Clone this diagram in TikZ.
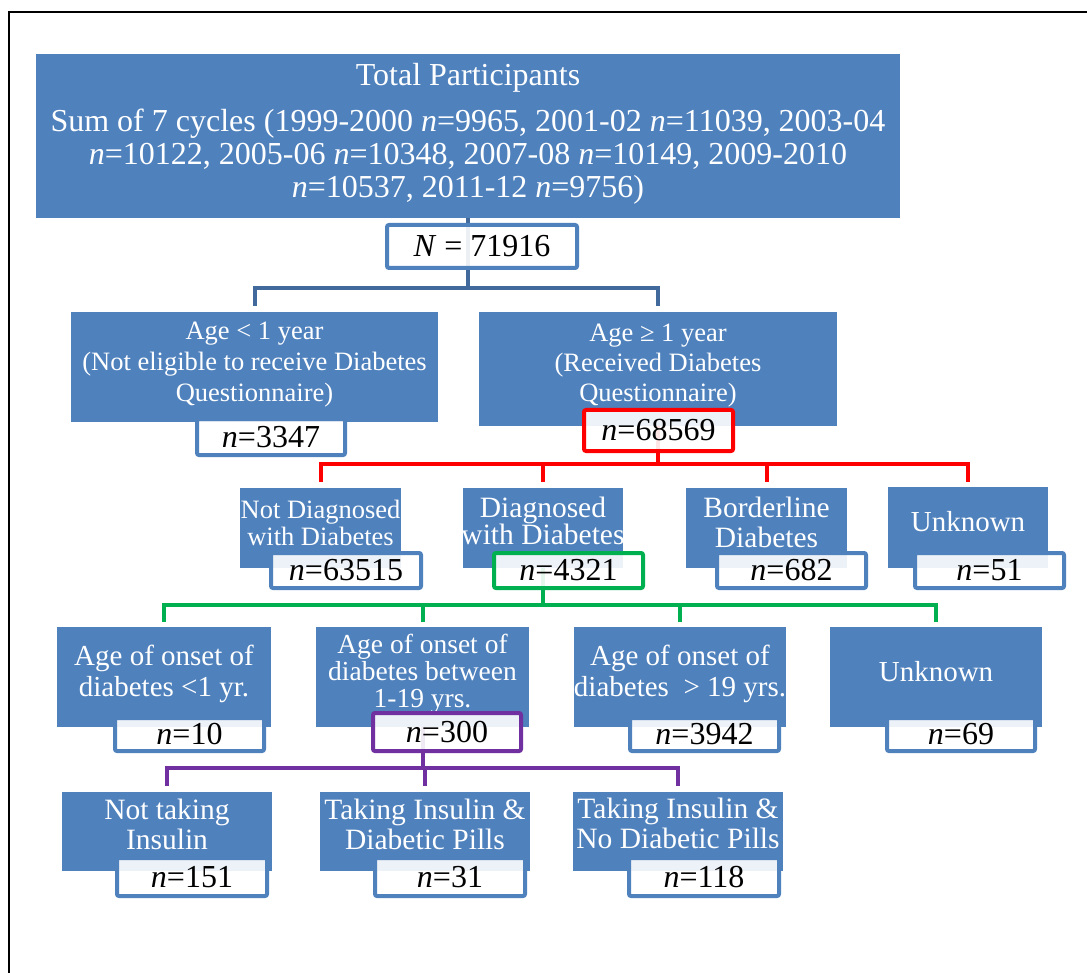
\documentclass[tikz,border=0pt]{standalone}
\usepackage{fontspec}
\setmainfont{Liberation Serif}
\definecolor{boxblue}{HTML}{4F81BD}
\definecolor{topline}{HTML}{41699C}
\definecolor{redline}{HTML}{FF0000}
\definecolor{greenline}{HTML}{00B050}
\definecolor{purpleline}{HTML}{7030A0}
\begin{document}
\begin{tikzpicture}[x=1pt,y=-1pt,
  bluebox/.style={fill=boxblue, draw=none, inner sep=0pt, outer sep=0pt},
  btext/.style={text=white, align=center, inner sep=0pt, anchor=north},
  btextone/.style={text=white, inner sep=0pt, anchor=base},
  nbox/.style={draw=#1, line width=4pt, rounded corners=2pt, fill=white, fill opacity=0.9, text opacity=1, inner sep=0pt, outer sep=0pt, font=\fontsize{32}{34}\selectfont},
  nbox/.default=boxblue,
  conn/.style={line width=4pt, draw=#1},
  frame/.style={line width=2pt, draw=black}]
\useasboundingbox (0,0) rectangle (1087,973);
\draw[frame] (9,973) -- (9,12) -- (1087,12);

% ---------- blue boxes ----------
\node[bluebox, minimum width=864pt, minimum height=164pt] (top) at (468,136) {};
\node[bluebox, minimum width=367pt, minimum height=110pt] (ageL) at (254.5,367) {};
\node[bluebox, minimum width=358pt, minimum height=114pt] (ageR) at (658,369) {};

\node[bluebox, minimum width=161pt, minimum height=80pt] (notdiag) at (320.5,528) {};
\node[bluebox, minimum width=160pt, minimum height=80pt] (diag) at (543,528) {};
\node[bluebox, minimum width=161pt, minimum height=80pt] (border) at (766.5,528) {};
\node[bluebox, minimum width=160pt, minimum height=81pt] (unkA) at (968,527.5) {};

\node[bluebox, minimum width=214pt, minimum height=100pt] (onA) at (164,677) {};
\node[bluebox, minimum width=213pt, minimum height=100pt] (onB) at (422.5,677) {};
\node[bluebox, minimum width=212pt, minimum height=100pt] (onC) at (680,677) {};
\node[bluebox, minimum width=212pt, minimum height=100pt] (unkB) at (936,677) {};

\node[bluebox, minimum width=210pt, minimum height=79pt] (insA) at (167,831.5) {};
\node[bluebox, minimum width=210pt, minimum height=79pt] (insB) at (425,831.5) {};
\node[bluebox, minimum width=210pt, minimum height=79pt] (insC) at (678,831.5) {};

% ---------- texts in blue boxes ----------
\node[btext, font=\fontsize{32}{33}\selectfont] (topT) at (468,63)
  {Total Participants\\[13pt]
   Sum of 7 cycles (1999-2000 \textit{n}=9965, 2001-02 \textit{n}=11039, 2003-04\\
   \textit{n}=10122, 2005-06 \textit{n}=10348, 2007-08 \textit{n}=10149, 2009-2010\\
   \textit{n}=10537, 2011-12 \textit{n}=9756)};
\node[btext, font=\fontsize{26.5}{31}\selectfont] (ageLT) at (254.5,321.7)
  {Age < 1 year\\(Not eligible to receive Diabetes\\Questionnaire)};
\node[btext, font=\fontsize{26.5}{30}\selectfont] (ageRT) at (658,323.7)
  {Age ≥ 1 year\\(Received Diabetes\\Questionnaire)};

\node[btext, font=\fontsize{26.5}{27}\selectfont] (notdiagT) at (320.5,499.7)
  {Not Diagnosed\\with Diabetes};
\node[btext, font=\fontsize{29.5}{27}\selectfont] (diagT) at (543,496.6)
  {Diagnosed\\with Diabetes};
\node[btext, font=\fontsize{29.5}{30}\selectfont] (borderT) at (766.5,496.6)
  {Borderline\\Diabetes};
\node[btextone, font=\fontsize{29}{29}\selectfont] (unkAT) at (968,531) {Unknown};

\node[btext, font=\fontsize{29}{31}\selectfont] (onAT) at (164,645)
  {Age of onset of\\diabetes <1 yr.};
\node[btext, font=\fontsize{27.5}{27}\selectfont] (onBT) at (422.5,634)
  {Age of onset of\\diabetes between\\1-19 yrs.};
\node[btext, font=\fontsize{29}{31}\selectfont] (onCT) at (680,645)
  {Age of onset of\\diabetes~ > 19 yrs.};
\node[btextone, font=\fontsize{29}{31}\selectfont] (unkBT) at (936,681) {Unknown};

\node[btext, font=\fontsize{29.5}{30.5}\selectfont] (insAT) at (167,798.6)
  {Not taking\\Insulin};
\node[btext, font=\fontsize{29.5}{30.5}\selectfont] (insBT) at (425,798.6)
  {Taking Insulin \&\\Diabetic Pills};
\node[btext, font=\fontsize{29.5}{30}\selectfont] (insCT) at (678,797.6)
  {Taking Insulin \&\\No Diabetic Pills};

% ---------- bus coordinates ----------
\coordinate (busA) at (0,288);
\coordinate (busB) at (0,464);
\coordinate (busC) at (0,605);
\coordinate (busD) at (0,768);

% ---------- connectors ----------
\draw[conn=topline] (top.south) -- (top.south |- busA);
\draw[conn=topline, shorten >=6pt] (top.south |- busA) -| (ageL.north);
\draw[conn=topline, shorten >=6pt] (top.south |- busA) -| (ageR.north);

\draw[conn=redline] (ageR.south) -- (ageR.south |- busB);
\draw[conn=redline, shorten >=6pt] (ageR.south |- busB) -| (notdiag.north);
\draw[conn=redline, shorten >=6pt] (ageR.south |- busB) -| (diag.north);
\draw[conn=redline, shorten >=6pt] (ageR.south |- busB) -| (border.north);
\draw[conn=redline, shorten >=5pt] (ageR.south |- busB) -| (unkA.north);

\draw[conn=greenline] (diag.south) -- (diag.south |- busC);
\draw[conn=greenline, shorten >=5pt] (diag.south |- busC) -| (onA.north);
\draw[conn=greenline, shorten >=5pt] (diag.south |- busC) -| (onB.north);
\draw[conn=greenline, shorten >=5pt] (diag.south |- busC) -| (onC.north);
\draw[conn=greenline, shorten >=5pt] (diag.south |- busC) -| (unkB.north);

\draw[conn=purpleline] (onB.south) -- (onB.south |- busD);
\draw[conn=purpleline, shorten >=6pt] (onB.south |- busD) -| (insA.north);
\draw[conn=purpleline, shorten >=6pt] (onB.south |- busD) -| (insB.north);
\draw[conn=purpleline, shorten >=6pt] (onB.south |- busD) -| (insC.north);

% ---------- count boxes ----------
\node[nbox, minimum width=190pt, minimum height=43pt] (Ntot) at (482,246.5) {\textit{N} = 71916};
\node[nbox, minimum width=148pt, minimum height=36pt] (nAgeL) at (271,437) {\textit{n}=3347};
\node[nbox=redline, minimum width=149pt, minimum height=41pt] (nAgeR) at (658.5,430.5) {\textit{n}=68569};

\node[nbox, minimum width=150pt, minimum height=35pt] (nNot) at (346,570.5) {\textit{n}=63515};
\node[nbox=greenline, minimum width=149pt, minimum height=35pt] (nDiag) at (568.5,570.5) {\textit{n}=4321};
\node[nbox, minimum width=149pt, minimum height=35pt] (nBord) at (791.5,570.5) {\textit{n}=682};
\node[nbox, minimum width=149pt, minimum height=35pt] (nUnkA) at (989.5,570.5) {\textit{n}=51};

\node[nbox, minimum width=149pt, minimum height=33pt] (nOnA) at (189.5,734.5) {\textit{n}=10};
\node[nbox=purpleline, minimum width=148pt, minimum height=38pt] (nOnB) at (447,732) {\textit{n}=300};
\node[nbox, minimum width=149pt, minimum height=33pt] (nOnC) at (704.5,734.5) {\textit{n}=3942};
\node[nbox, minimum width=148pt, minimum height=33pt] (nUnkB) at (961,734.5) {\textit{n}=69};

\node[nbox, minimum width=150pt, minimum height=38pt] (nInsA) at (192,877) {\textit{n}=151};
\node[nbox, minimum width=150pt, minimum height=38pt] (nInsB) at (450,877) {\textit{n}=31};
\node[nbox, minimum width=150pt, minimum height=38pt] (nInsC) at (704,877) {\textit{n}=118};
\end{tikzpicture}
\end{document}
